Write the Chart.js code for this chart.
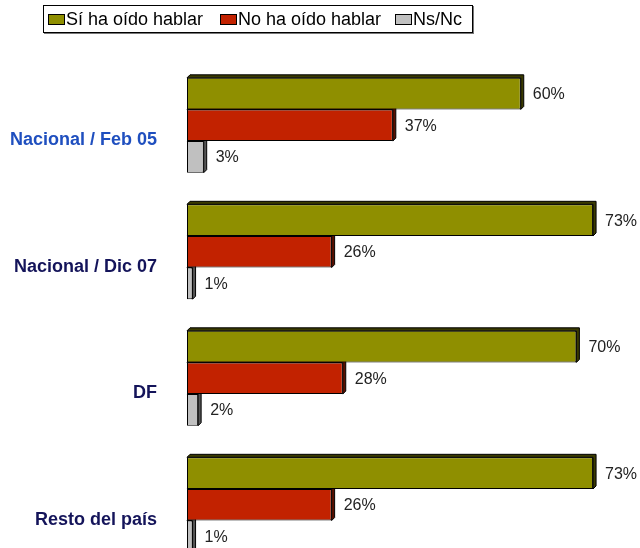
<!DOCTYPE html>
<html>
<head>
<meta charset="utf-8">
<script src="https://cdn.jsdelivr.net/npm/chart.js@4/dist/chart.umd.min.js"></script>
<style>
    html, body { margin: 0; padding: 0; background: #fff; overflow: hidden; width: 640px; height: 548px; }
    #wrap { position: relative; width: 640px; height: 548px; overflow: hidden; }
    #chartBox { position: absolute; left: 0; top: 0; width: 640px; height: 572px; }
    .legend {
        position: absolute; left: 43px; top: 5px; width: 428px; height: 26px;
        border: 1px solid #000; box-shadow: 1px 1px 0 #777; background: #fff;
        font: 18px "Liberation Sans", Arial, sans-serif; color: #000;
    }
    .legend i { position: absolute; top: 8px; width: 15px; height: 9px; border: 1px solid #000; }
    .legend span { position: absolute; top: 3px; line-height: 20px; white-space: nowrap; }
</style>
</head>
<body>
<div id="wrap">
    <div id="chartBox"><canvas id="surveyChart"></canvas></div>
    <div class="legend" id="legend"></div>
</div>
<script>
const categories = ['Nacional / Feb 05', 'Nacional / Dic 07', 'DF', 'Resto del país'];
const seriesNames = ['Sí ha oído hablar', 'No ha oído hablar', 'Ns/Nc'];
const heardOf = [60, 73, 70, 73];
const notHeard = [37, 26, 28, 26];
const noAnswer = [3, 1, 2, 1];

const fills = ['#8f8f00', '#c22200', '#c0c0c0'];
const sides = ['#3a3a00', '#5a1000', '#555555'];
const labelColors = ['#1f4fbf', '#14145a', '#14145a', '#14145a'];
const legendX = [4, 176, 351]; // box left inside the legend frame

// boxed legend row on top of the canvas
const legendEl = document.getElementById('legend');
seriesNames.forEach((name, i) => {
    const box = document.createElement('i');
    box.style.left = legendX[i] + 'px';
    box.style.background = fills[i];
    const txt = document.createElement('span');
    txt.style.left = (legendX[i] + 18) + 'px';
    txt.textContent = name;
    legendEl.appendChild(box);
    legendEl.appendChild(txt);
});

// fake 3D depth: dark top and right faces behind each bar
const depthPlugin = {
    id: 'depth',
    beforeDatasetsDraw(chart) {
        const ctx = chart.ctx;
        const d = 3;
        chart.data.datasets.forEach((ds, di) => {
            chart.getDatasetMeta(di).data.forEach(bar => {
                const { x, y, base, height } = bar.getProps(['x', 'y', 'base', 'height'], true);
                const top = y - height / 2;
                const bottom = y + height / 2;
                ctx.save();
                ctx.fillStyle = sides[di];
                ctx.strokeStyle = '#000';
                ctx.lineWidth = 1;
                ctx.beginPath();
                ctx.moveTo(base, top);
                ctx.lineTo(base + d, top - d);
                ctx.lineTo(x + d, top - d);
                ctx.lineTo(x + d, bottom - d);
                ctx.lineTo(x, bottom);
                ctx.lineTo(x, top);
                ctx.closePath();
                ctx.fill();
                ctx.stroke();
                ctx.restore();
            });
        });
    }
};

const valueLabels = {
    id: 'valueLabels',
    afterDatasetsDraw(chart) {
        const ctx = chart.ctx;
        ctx.save();
        ctx.font = '16px "Liberation Sans", Arial, sans-serif';
        ctx.fillStyle = '#222';
        ctx.textBaseline = 'middle';
        ctx.textAlign = 'left';
        chart.data.datasets.forEach((ds, di) => {
            chart.getDatasetMeta(di).data.forEach((bar, i) => {
                ctx.fillText(ds.data[i] + '%', bar.x + 12, bar.y + 1);
            });
        });
        ctx.restore();
    }
};

const ctx = document.getElementById('surveyChart').getContext('2d');
const chart = new Chart(ctx, {
    type: 'bar',
    data: {
        labels: categories,
        datasets: [heardOf, notHeard, noAnswer].map((values, i) => ({
            label: seriesNames[i],
            data: values,
            backgroundColor: fills[i],
            borderColor: '#000',
            borderWidth: 1,
            borderSkipped: false,
            barPercentage: 1,
            categoryPercentage: 0.75
        }))
    },
    options: {
        indexAxis: 'y',
        responsive: true,
        maintainAspectRatio: false,
        animation: false,
        layout: { padding: { top: 62, right: 8, bottom: 4, left: 0 } },
        plugins: {
            legend: { display: false },
            tooltip: { enabled: false }
        },
        scales: {
            x: { display: false, min: 0, max: 80 },
            y: {
                afterFit: (scale) => {
                    // fixed label column; tick padding shouldn't eat vertical space
                    scale.width = 187;
                    scale.paddingTop = 0;
                    scale.paddingBottom = 0;
                },
                border: { display: false },
                grid: { display: false, drawTicks: false },
                ticks: {
                    padding: 30,
                    labelOffset: 15,
                    color: (c) => labelColors[c.index],
                    font: { family: '"Liberation Sans", Arial, sans-serif', size: 18, weight: 'bold' }
                }
            }
        }
    },
    plugins: [depthPlugin, valueLabels]
});
</script>
</body>
</html>
